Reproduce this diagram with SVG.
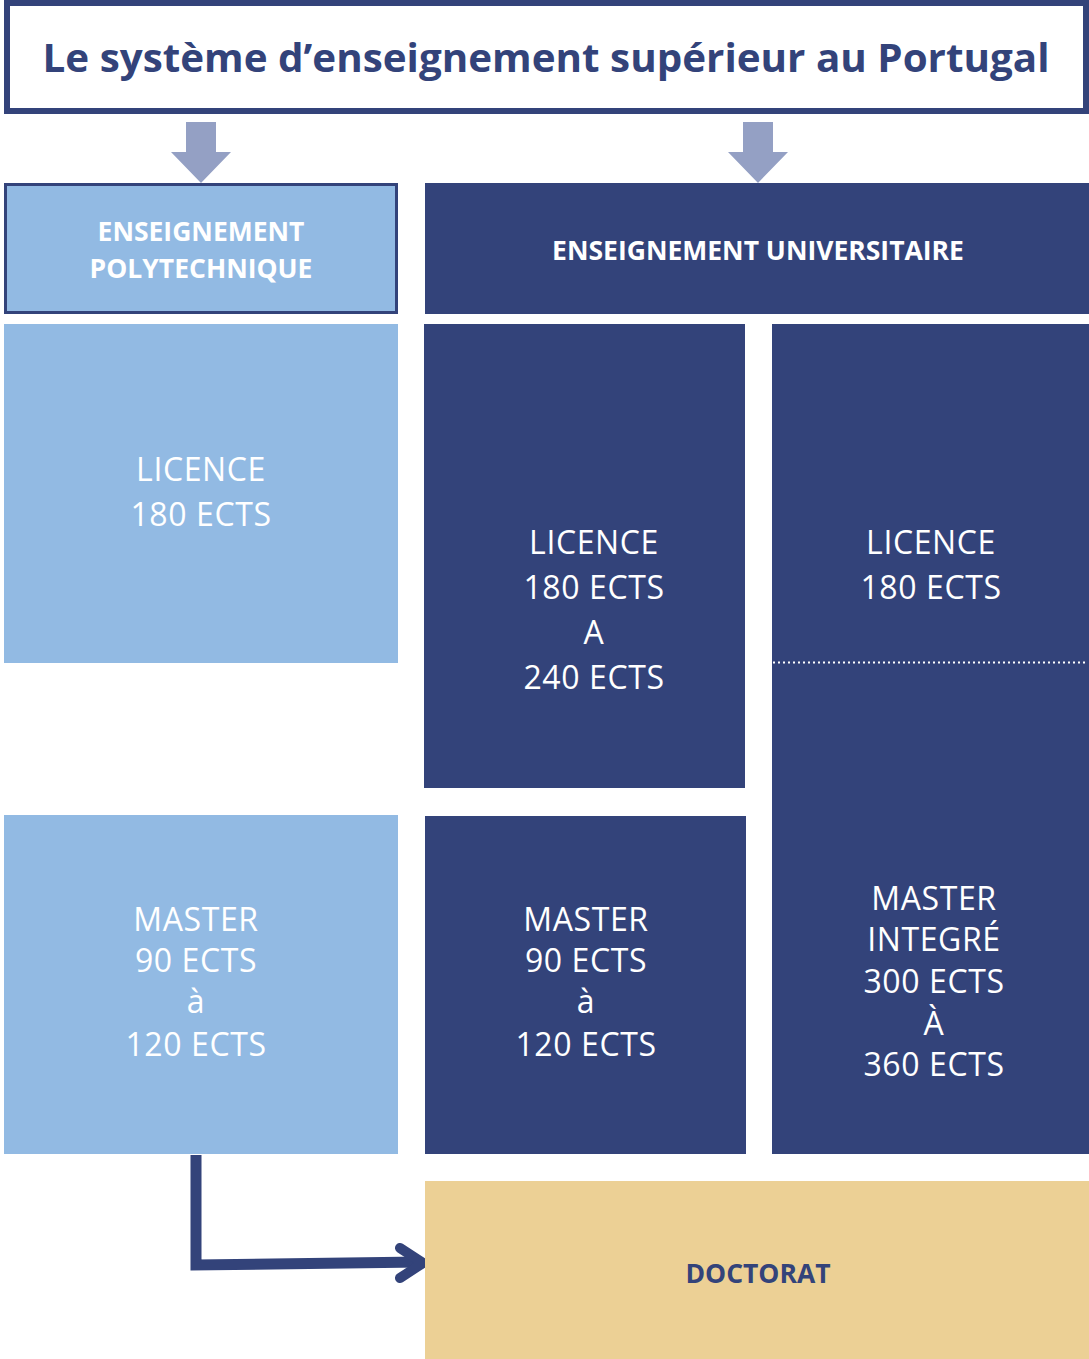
<svg xmlns="http://www.w3.org/2000/svg" width="1089" height="1359" viewBox="0 0 1089 1359">
<style>
.navy{fill:#33437A}
.light{fill:#92BAE3}
.gold{fill:#ECD095}
.hdr{font-family:"Open Sans","Liberation Sans",sans-serif;font-weight:700;font-size:26.5px;fill:#ffffff;text-anchor:middle}
.body{font-family:"Open Sans","Liberation Sans",sans-serif;font-weight:400;font-size:32px;letter-spacing:0.6px;fill:#ffffff;text-anchor:middle}
.blockarrow{fill:#94A0C4}
</style>
<rect width="1089" height="1359" fill="#ffffff"/>
<g id="title">
<rect x="7" y="3" width="1079" height="108" fill="#ffffff" stroke="#33437A" stroke-width="6"/>
<text x="546" y="72" font-family="Open Sans,Liberation Sans,sans-serif" font-weight="700" font-size="40" fill="#33437A" text-anchor="middle" textLength="1007" lengthAdjust="spacingAndGlyphs">Le système d’enseignement supérieur au Portugal</text>
</g>
<g id="connectors">
<polygon class="blockarrow" points="186,122 216,122 216,152 231,152 201,183 171,152 186,152"/>
<polygon class="blockarrow" points="743,122 773,122 773,152 788,152 758,183 728,152 743,152"/>
<polyline points="196,1155 196,1265 420,1262" fill="none" stroke="#33437A" stroke-width="11"/>
<polyline points="400,1248 423,1263 400,1278" fill="none" stroke="#33437A" stroke-width="10" stroke-linecap="round" stroke-linejoin="round"/>
</g>
<g id="poly-header">
<rect x="5.5" y="184.5" width="391" height="128" class="light" stroke="#33437A" stroke-width="3"/>
<text class="hdr" x="201" y="241">ENSEIGNEMENT</text>
<text class="hdr" x="201" y="278">POLYTECHNIQUE</text>
</g>
<g id="uni-header">
<rect x="425" y="183" width="664" height="131" class="navy"/>
<text class="hdr" x="758" y="260">ENSEIGNEMENT UNIVERSITAIRE</text>
</g>
<g id="poly-licence">
<rect x="4" y="324" width="394" height="339" class="light"/>
<text class="body" x="201" y="481">LICENCE</text>
<text class="body" x="201" y="526">180 ECTS</text>
</g>
<g id="uni-licence">
<rect x="424" y="324" width="321" height="464" class="navy"/>
<text class="body" x="594" y="554">LICENCE</text>
<text class="body" x="594" y="599">180 ECTS</text>
<text class="body" x="594" y="644">A</text>
<text class="body" x="594" y="689">240 ECTS</text>
</g>
<g id="master-integre">
<rect x="772" y="324" width="317" height="830" class="navy"/>
<line x1="773" y1="662.5" x2="1087" y2="662.5" stroke="#ffffff" stroke-width="2" stroke-dasharray="2,3"/>
<text class="body" x="931" y="554">LICENCE</text>
<text class="body" x="931" y="599">180 ECTS</text>
<text class="body" x="934" y="910">MASTER</text>
<text class="body" x="934" y="951">INTEGRÉ</text>
<text class="body" x="934" y="993">300 ECTS</text>
<text class="body" x="934" y="1035">À</text>
<text class="body" x="934" y="1076">360 ECTS</text>
</g>
<g id="poly-master">
<rect x="4" y="815" width="394" height="339" class="light"/>
<text class="body" x="196" y="931">MASTER</text>
<text class="body" x="196" y="972">90 ECTS</text>
<text class="body" x="196" y="1013">à</text>
<text class="body" x="196" y="1056">120 ECTS</text>
</g>
<g id="uni-master">
<rect x="425" y="816" width="321" height="338" class="navy"/>
<text class="body" x="586" y="931">MASTER</text>
<text class="body" x="586" y="972">90 ECTS</text>
<text class="body" x="586" y="1013">à</text>
<text class="body" x="586" y="1056">120 ECTS</text>
</g>
<g id="doctorat">
<rect x="425" y="1181" width="664" height="178" class="gold"/>
<text x="758" y="1283" font-family="Open Sans,Liberation Sans,sans-serif" font-weight="700" font-size="26.5" fill="#33437A" text-anchor="middle">DOCTORAT</text>
</g>
</svg>
